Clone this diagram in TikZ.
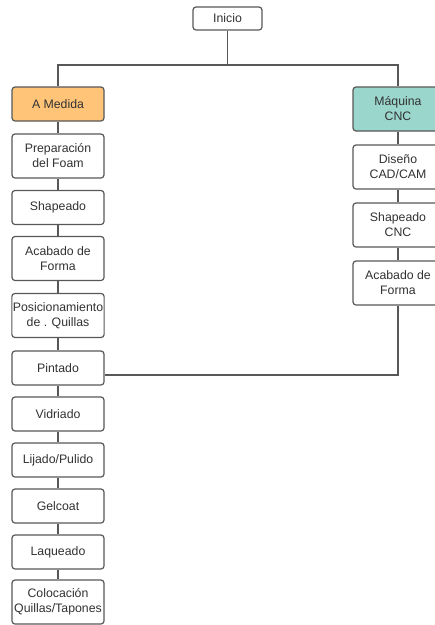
\documentclass[tikz,border=0pt]{standalone}
\usepackage{fontspec}
\setmainfont{Liberation Sans}
\usetikzlibrary{positioning}

\definecolor{borde}{RGB}{88,88,88}
\definecolor{texto}{RGB}{50,50,50}
\definecolor{naranja}{RGB}{255,196,120}
\definecolor{turquesa}{RGB}{154,214,204}

\tikzset{
  paso/.style={draw=borde, line width=1.2pt, rounded corners=3pt, fill=white,
    align=center, minimum width=92pt, minimum height=34pt, inner xsep=1pt,
    font=\fontsize{12.3}{15}\selectfont, text=texto},
  pasocnc/.style={paso, minimum width=90pt, minimum height=44pt},
  doble/.style={minimum height=44pt},
  linea/.style={draw=borde, line width=1.2pt}
}

\begin{document}
\begin{tikzpicture}[x=1pt, y=-1pt]
\useasboundingbox[fill=white] (0,0) rectangle (435,625);

% raiz
\node[paso, minimum width=69pt, minimum height=23pt] (inicio) at (227.5,18.5) {Inicio};
\coordinate (bif) at (227.5,65);

% rama a medida
\node[paso, fill=naranja] (amedida) at (58,104) {A Medida};
\node[paso, doble] (prep) at (58,156) {Preparación\\del Foam};
\node[paso] (shap) at (58,207.5) {Shapeado};
\node[paso, doble] (acab) at (58,258.5) {Acabado de\\Forma};
\node[paso, doble] (posi) at (58,315.5) {Posicionamiento\\de . Quillas};
\node[paso] (pint) at (58,368) {Pintado};
\node[paso] (vidr) at (58,414) {Vidriado};
\node[paso] (lija) at (58,460) {Lijado/Pulido};
\node[paso] (gelc) at (58,506) {Gelcoat};
\node[paso] (laqu) at (58,552) {Laqueado};
\node[paso, doble] (colo) at (58,602) {Colocación\\Quillas/Tapones};

% rama cnc
\node[pasocnc, fill=turquesa] (maquina) at (398,109) {Máquina\\CNC};
\node[pasocnc] (dise) at (398,167) {Diseño\\CAD/CAM};
\node[pasocnc] (shcnc) at (398,225) {Shapeado\\CNC};
\node[pasocnc] (acabcnc) at (398,283) {Acabado de\\Forma};
\coordinate (union) at (398,375);

% conectores
\draw[linea] (inicio) -- (bif) -| (amedida);
\draw[linea] (bif) -| (maquina);
\foreach \a/\b in {amedida/prep, prep/shap, shap/acab, acab/posi, posi/pint,
  pint/vidr, vidr/lija, lija/gelc, gelc/laqu, laqu/colo,
  maquina/dise, dise/shcnc, shcnc/acabcnc}
  \draw[linea] (\a) -- (\b);
\draw[linea] (acabcnc) -- (union) -- (pint.east |- union);
\end{tikzpicture}
\end{document}
